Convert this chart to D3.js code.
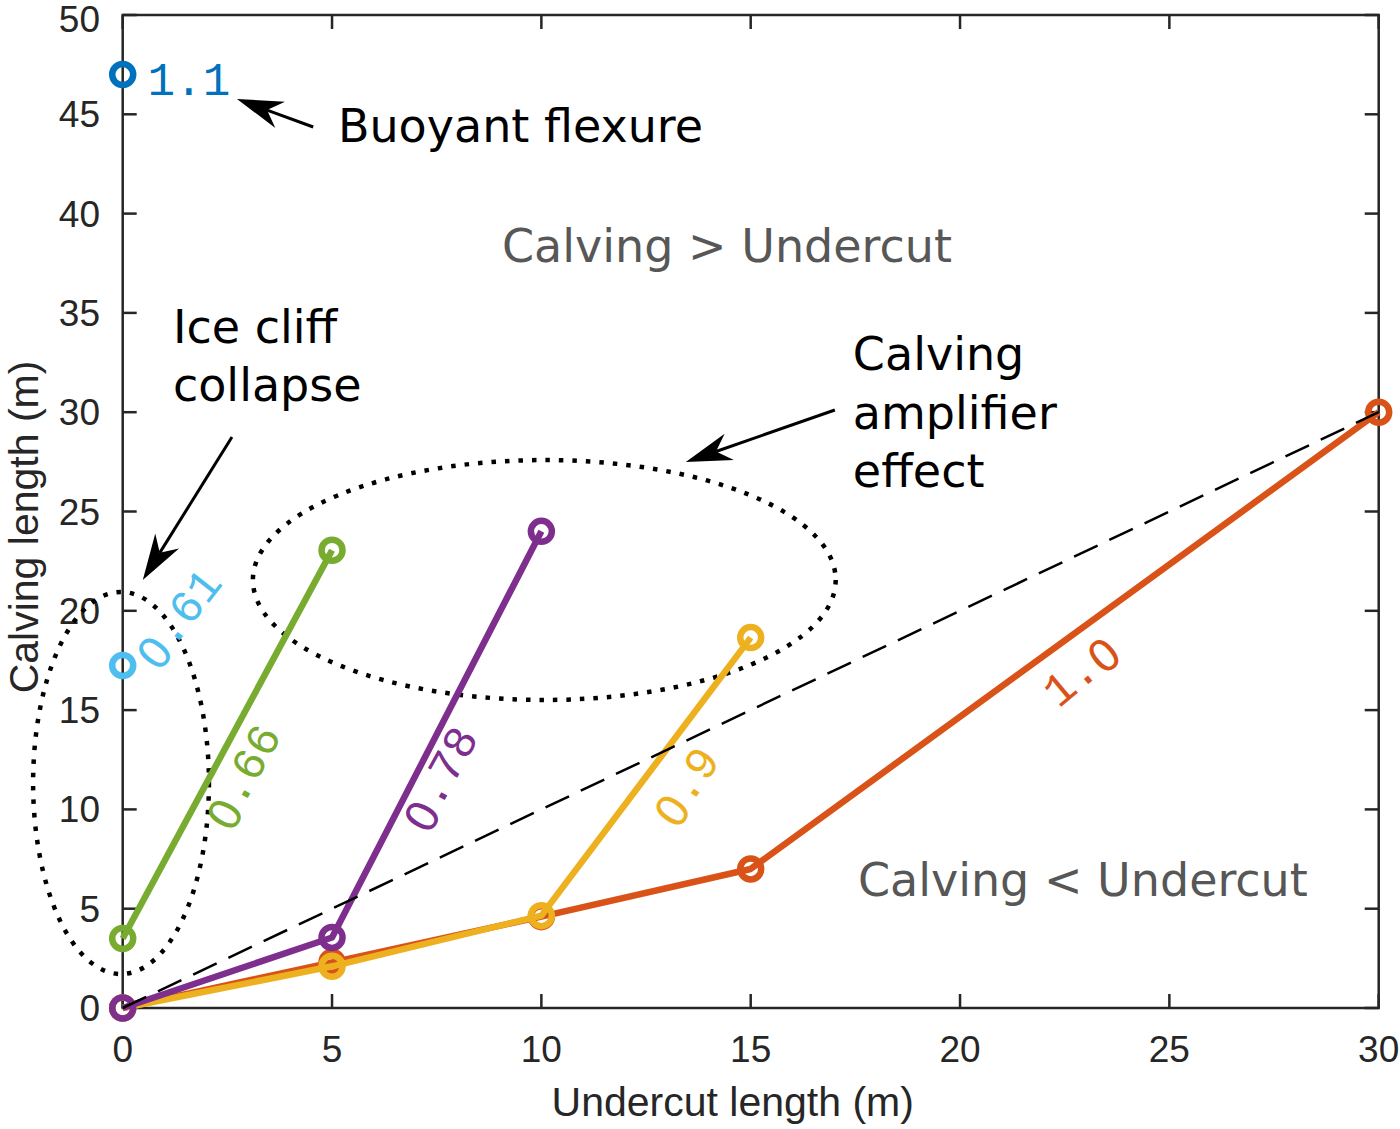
<!DOCTYPE html>
<html><head><meta charset="utf-8">
<script src="https://cdn.jsdelivr.net/npm/d3@7"></script>
<style>
body{margin:0;background:#fff}
.mono{font-family:"Liberation Mono","DejaVu Sans Mono",monospace;}
.zero{font-family:"DejaVu Sans",sans-serif;}
.sans{font-family:"Liberation Sans",Arial,Helvetica,sans-serif;}
.note{font-family:"DejaVu Sans",Verdana,sans-serif;}
</style>
</head><body>
<svg id="c" width="1400" height="1129"></svg>
<script>
// ---- data ----
const xTicks = [0,5,10,15,20,25,30];
const yTicks = [0,5,10,15,20,25,30,35,40,45,50];
const series = [
  {name:"1.0",  color:"#D95319", pts:[[0,0],[5,2.3],[10,4.6],[15,7.0],[30,30]]},
  {name:"0.9",  color:"#EDB120", pts:[[0,0],[5,2.1],[10,4.65],[15,18.65]]},
  {name:"0.78", color:"#7E2F8E", pts:[[0,0],[5,3.55],[10,24.0]]},
  {name:"0.66", color:"#77AC30", pts:[[0,3.5],[5,23.05]]},
  {name:"1.1",  color:"#0072BD", pts:[[0,47.0]]},
  {name:"0.61", color:"#4DBEEE", pts:[[0,17.25]]}
];
const oneToOne = [[0,0],[30,30]];
// labels: [text, x, y, angle, color]
const seriesLabels = [
  ["1.1", 1.58, 46.6, 0, "#0072BD"],
  ["0.61", 1.37, 19.54, -52, "#4DBEEE"],
  ["0.66", 2.92, 11.58, -61, "#77AC30"],
  ["0.78", 7.63, 11.48, -61, "#7E2F8E"],
  ["0.9", 13.5, 11.08, -55, "#EDB120"],
  ["1.0", 22.93, 16.87, -40, "#D95319"]
];
// annotation texts: [lines, x, y(baseline of first line), color]
const notes = [
  [["Buoyant flexure"], 5.14, 43.6, "#000"],
  [["Calving > Undercut"], 9.06, 37.56, "#575757"],
  [["Ice cliff","collapse"], 1.2, 33.5, "#000"],
  [["Calving","amplifier","effect"], 17.44, 32.1, "#000"],
  [["Calving < Undercut"], 17.56, 5.64, "#575757"]
];
// arrows: [tailX, tailY, tipX, tipY]
const arrows = [
  [4.55, 44.36, 2.73, 45.77],
  [2.61, 28.75, 0.48, 21.55],
  [17.01, 30.11, 13.45, 27.49]
];
// ellipses: [cx, cy, rx, ry]
const ellipses = [
  [-0.04, 11.33, 2.1, 9.62],
  [10.07, 21.55, 6.96, 6.04]
];

// ---- layout ----
const L=122.7, R=1378.7, T=15, B=1008;
const svg = d3.select("#c");
const x = d3.scaleLinear().domain([0,30]).range([L,R]);
const y = d3.scaleLinear().domain([0,50]).range([B,T]);
const axisCol = "#262626";

// box
svg.append("rect").attr("x",L).attr("y",T).attr("width",R-L).attr("height",B-T)
  .attr("fill","none").attr("stroke",axisCol).attr("stroke-width",2.5);

// ticks (inward, all four sides)
const tl = 14;
const g = svg.append("g").attr("stroke",axisCol).attr("stroke-width",2.5);
xTicks.forEach(t=>{
  g.append("line").attr("x1",x(t)).attr("x2",x(t)).attr("y1",B).attr("y2",B-tl);
  g.append("line").attr("x1",x(t)).attr("x2",x(t)).attr("y1",T).attr("y2",T+tl);
});
yTicks.forEach(t=>{
  g.append("line").attr("y1",y(t)).attr("y2",y(t)).attr("x1",L).attr("x2",L+tl);
  g.append("line").attr("y1",y(t)).attr("y2",y(t)).attr("x1",R).attr("x2",R-tl);
});
svg.append("g").selectAll("text").data(xTicks).join("text").attr("class","sans")
  .attr("x",d=>x(d)).attr("y",1062).attr("text-anchor","middle")
  .attr("font-size",37).attr("fill",axisCol).text(d=>d);
svg.append("g").selectAll("text").data(yTicks).join("text").attr("class","sans")
  .attr("x",100).attr("y",d=>Math.max(y(d)+13, 32)).attr("text-anchor","end")
  .attr("font-size",37).attr("fill",axisCol).text(d=>d);
svg.append("text").attr("class","sans").attr("x",(L+R)/2-18).attr("y",1116).attr("text-anchor","middle")
  .attr("font-size",41).attr("fill",axisCol).text("Undercut length (m)");
svg.append("text").attr("class","sans").attr("transform","translate(38,527) rotate(-90)").attr("text-anchor","middle")
  .attr("font-size",41).attr("fill",axisCol).text("Calving length (m)");

// ellipses (dotted)
svg.append("g").selectAll("ellipse").data(ellipses).join("ellipse")
  .attr("cx",d=>x(d[0])).attr("cy",d=>y(d[1]))
  .attr("rx",d=>x(d[2])-x(0)).attr("ry",d=>y(0)-y(d[3]))
  .attr("fill","none").attr("stroke","#000").attr("stroke-width",4.5)
  .attr("stroke-dasharray","4.5 9");

// series lines + markers
const line = d3.line().x(d=>x(d[0])).y(d=>y(d[1]));
series.forEach(s=>{
  if(s.pts.length>1){
    svg.append("path").attr("d",line(s.pts)).attr("fill","none")
      .attr("stroke",s.color).attr("stroke-width",6.5).attr("stroke-linejoin","round");
  }
  svg.append("g").selectAll("circle").data(s.pts).join("circle")
    .attr("cx",d=>x(d[0])).attr("cy",d=>y(d[1])).attr("r",10.5)
    .attr("fill","none").attr("stroke",s.color).attr("stroke-width",6.5);
});

// 1:1 dashed line
svg.append("path").attr("d",line(oneToOne)).attr("fill","none")
  .attr("stroke","#000").attr("stroke-width",2.5).attr("stroke-dasharray","26 13");

// series labels (plain zero glyph instead of the slashed mono zero)
seriesLabels.forEach(([t,lx,ly,a,c])=>{
  const tx = svg.append("text").attr("class","mono")
    .attr("transform",`translate(${x(lx)},${y(ly)}) rotate(${a})`)
    .attr("text-anchor","middle").attr("dominant-baseline","central")
    .attr("font-size",46).attr("fill",c);
  t.split("").forEach(ch=>{
    const sp = tx.append("tspan").text(ch);
    if(ch==="0") sp.attr("class","zero").attr("font-size",44);
  });
});

// notes
notes.forEach(([lines,nx,ny,c])=>{
  const t = svg.append("text").attr("class","note").attr("font-size",46).attr("fill",c);
  lines.forEach((ln,i)=>{
    t.append("tspan").attr("x",x(nx)).attr("y",y(ny)+i*58.5).text(ln);
  });
});

// arrows
arrows.forEach(([x1,y1,x2,y2])=>{
  const X1=x(x1),Y1=y(y1),X2=x(x2),Y2=y(y2);
  const ang=Math.atan2(Y2-Y1,X2-X1);
  const hl=46, hw=14, back=32;
  const ux=Math.cos(ang), uy=Math.sin(ang);
  const bx=X2-ux*hl, by=Y2-uy*hl;
  const mx=X2-ux*back, my=Y2-uy*back;
  svg.append("line").attr("x1",X1).attr("y1",Y1).attr("x2",mx).attr("y2",my)
    .attr("stroke","#000").attr("stroke-width",3);
  const p=[[X2,Y2],[bx-uy*hw,by+ux*hw],[mx,my],[bx+uy*hw,by-ux*hw]];
  svg.append("polygon").attr("points",p.map(q=>q.join(",")).join(" ")).attr("fill","#000");
});
</script>
</body></html>
